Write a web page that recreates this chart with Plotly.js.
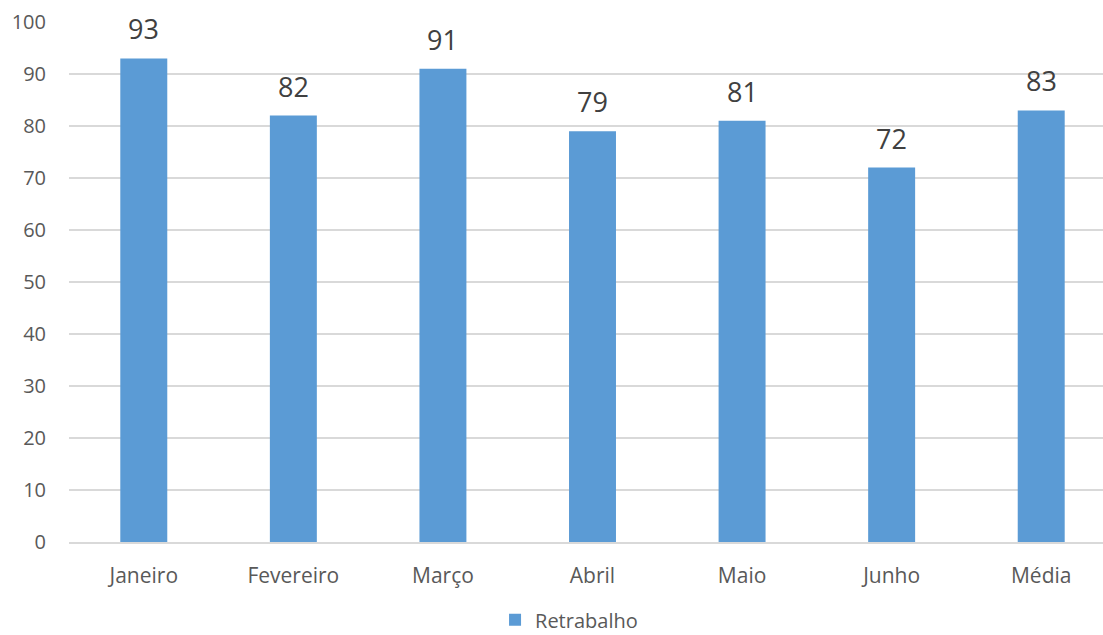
<!DOCTYPE html>
<html>
<head>
<meta charset="utf-8">
<script src="https://cdn.plot.ly/plotly-3.0.1.min.js"></script>
<style>
  html, body { margin: 0; padding: 0; overflow: hidden; background: #fff; }
  #chart { width: 1120px; height: 635px; }
</style>
</head>
<body>
<div id="chart"></div>
<script>
// Retrabalho por mês, com a média no fim
const meses = ["Janeiro", "Fevereiro", "Março", "Abril", "Maio", "Junho", "Média"];
const retrabalho = [93, 82, 91, 79, 81, 72, 83];
const yTicks = [0, 10, 20, 30, 40, 50, 60, 70, 80, 90, 100];

const font = "'Open Sans', sans-serif";

const trace = {
  type: "bar",
  name: "Retrabalho",
  x: meses,
  y: retrabalho,
  marker: { color: "#5b9bd5" },
  hoverinfo: "x+y"
};

// value labels above each bar
const labels = meses.map((m, i) => ({
  x: m,
  y: retrabalho[i],
  xref: "x",
  yref: "y",
  text: String(retrabalho[i]),
  showarrow: false,
  yanchor: "bottom",
  yshift: 9,
  font: { family: font, size: 27, color: "#404040" }
}));

const layout = {
  width: 1120,
  height: 635,
  margin: { l: 69, r: 4, t: 22, b: 93, autoexpand: false },
  paper_bgcolor: "#ffffff",
  plot_bgcolor: "#ffffff",
  bargap: 0.686,
  showlegend: true,
  legend: {
    orientation: "h",
    x: 0.4776,
    xanchor: "center",
    xref: "paper",
    yref: "container",
    y: 0.024,
    yanchor: "middle",
    font: { family: font, size: 20, color: "#595959" },
    itemwidth: 30
  },
  xaxis: {
    type: "category",
    showgrid: false,
    showline: true,
    linecolor: "#d9d9d9",
    linewidth: 1.5,
    ticks: "",
    ticklabelstandoff: 14,
    tickfont: { family: font, size: 21, color: "#595959" },
    automargin: false,
    fixedrange: true
  },
  yaxis: {
    range: [0, 100],
    tickvals: yTicks,
    ticktext: yTicks.map(String),
    showgrid: true,
    gridcolor: "#d9d9d9",
    gridwidth: 1.5,
    zeroline: false,
    showline: false,
    ticks: "",
    ticklabelstandoff: 22,
    tickfont: { family: font, size: 20, color: "#595959" },
    automargin: false,
    fixedrange: true
  },
  annotations: labels
};

Plotly.newPlot("chart", [trace], layout, { displayModeBar: false, staticPlot: true });
</script>
</body>
</html>
